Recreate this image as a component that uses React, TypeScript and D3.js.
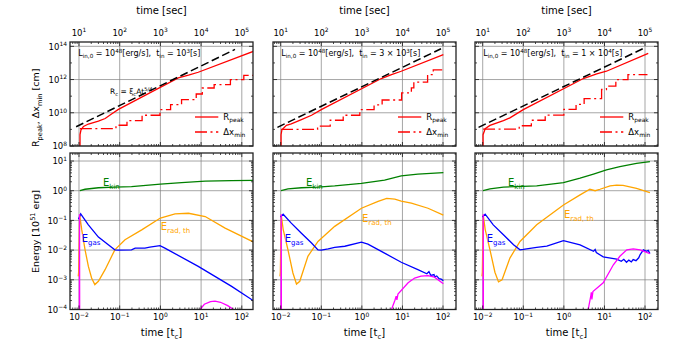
import React from 'react';
import * as d3 from 'd3';

type Pt = [number, number];
type Part = [string, 'n' | 'b' | 'p'];

// tick values
const tcTicks = [1e-2, 1e-1, 1, 1e1, 1e2];
const secTicks = [1e1, 1e2, 1e3, 1e4, 1e5];
const rMajor = [1e8, 1e10, 1e12, 1e14];
const eMajor = [1e-4, 1e-3, 1e-2, 1e-1, 1, 1e1];

// injection time text for each column
const tinCoef = ['', '3 × ', '1 × '];
const tinExp = ['3', '3', '4'];

// magenta spike at launch (same in every column), NaN = gap
const magSpike: Pt[] = [[0.0102, 3e-5], [0.0103, 0.16], [0.0104, 3e-5], [NaN, NaN]];

// ---- column 1 (t_in = 1e3 s) ----
const p1Rc: Pt[] = [[0.0085, 1.45e9], [68, 6.5e13]];
const p1Rpeak: Pt[] = [[0.0106, 1e8], [0.0106, 4.8e8], [0.0112, 9.5e8], [0.0129, 1.5e9], [0.017, 2.1e9], [0.03, 3.1e9], [0.044, 4.5e9], [0.063, 8.5e9], [0.093, 1.6e10], [2.75, 1.26e12], [4.9, 1.82e12], [8.5, 2.75e12], [190, 4.9e13]];
const p1Dx: Pt[] = [[0.0105, 1.12e9], [0.081, 1.78e9], [0.151, 3.39e9], [0.355, 7.08e9], [0.977, 1.55e10], [1.78, 3.09e10], [3.31, 6.17e10], [7.59, 1.35e11], [10.7, 3.09e11], [20.9, 4.9e11], [52.5, 9.77e11], [112, 1.78e12], [190, 1.78e12]];
const p1Kin: Pt[] = [[0.0105, 1.0], [0.0141, 1.12], [0.03, 1.26], [0.076, 1.32], [0.195, 1.38], [1.0, 1.66], [3.31, 1.86], [12.6, 2.09], [56, 2.19], [190, 2.24]];
const p1Gas: Pt[] = [[0.0097, 0.11], [0.011, 0.166], [0.017, 0.071], [0.03, 0.0275], [0.0525, 0.0151], [0.076, 0.0102], [0.093, 0.01], [0.195, 0.0102], [0.24, 0.0117], [0.417, 0.0117], [0.55, 0.0126], [0.977, 0.0141], [1.29, 0.0117], [8.51, 0.00282], [56.2, 6.0e-4], [190, 2.0e-4]];
const p1Rad: Pt[] = [[0.0096, 1.3e-3], [0.0098, 1.8e-3], [0.0104, 0.15], [0.0117, 0.048], [0.0141, 0.0102], [0.017, 2.82e-3], [0.0204, 1.15e-3], [0.0245, 6.9e-4], [0.03, 8.9e-4], [0.0437, 2.19e-3], [0.0759, 0.0102], [0.135, 0.0224], [0.347, 0.048], [1.0, 0.12], [2.29, 0.166], [4.9, 0.174], [12.6, 0.135], [38.9, 0.055], [190, 0.019]];
const p1Mag: Pt[] = [[8.0, 4e-5], [9.4, 1e-4], [12, 1.5e-4], [17, 1.85e-4], [22, 1.9e-4], [30, 1.75e-4], [45, 1.35e-4], [60, 1.05e-4], [75, 5e-5]];

// ---- column 2 (t_in = 3e3 s) ----
const p2Rc: Pt[] = [[0.0083, 1.33e9], [89, 7.1e13]];
const p2Rpeak: Pt[] = [[0.0102, 1e8], [0.0102, 4.8e8], [0.0107, 9.5e8], [0.0138, 1.74e9], [0.0182, 2.14e9], [0.0324, 3.89e9], [0.0575, 7.08e9], [0.1, 1.55e10], [3.02, 1.15e12], [5.37, 2.0e12], [9.33, 3.16e12], [102, 3.2e13]];
const p2Dx: Pt[] = [[0.0102, 1.0e9], [0.081, 1.58e9], [0.166, 3.55e9], [0.347, 7.08e9], [0.891, 1.55e10], [2.0, 2.95e10], [3.16, 5.89e10], [9.55, 1.58e11], [16.6, 3.16e11], [19.1, 7.08e11], [41.7, 2.0e12], [57.5, 3.8e12], [95.5, 3.8e12]];
const p2Kin: Pt[] = [[0.0102, 1.0], [0.0151, 1.15], [0.0324, 1.26], [0.083, 1.32], [0.214, 1.45], [0.977, 1.78], [3.63, 2.29], [9.33, 3.16], [24, 3.63], [102, 4.07]];
const p2Gas: Pt[] = [[0.0098, 0.13], [0.0115, 0.162], [0.0182, 0.081], [0.0324, 0.037], [0.0575, 0.0174], [0.083, 0.0102], [0.1, 0.01], [0.148, 0.011], [0.214, 0.0123], [0.38, 0.0135], [0.977, 0.0186], [1.41, 0.0158], [3.63, 7.9e-3], [9.33, 3.9e-3], [24, 2.19e-3], [40, 1.6e-3], [45, 1.9e-3], [50, 1.4e-3], [60, 1.5e-3], [62, 1.25e-3], [70, 1.35e-3], [80, 1.1e-3], [90, 1.05e-3], [102, 9.3e-4]];
const p2Rad: Pt[] = [[0.0096, 1.3e-3], [0.0098, 1.8e-3], [0.0103, 0.15], [0.0115, 0.05], [0.0151, 0.0102], [0.02, 1.7e-3], [0.0245, 7.2e-4], [0.0295, 8.9e-4], [0.0468, 6.2e-3], [0.083, 0.0195], [0.214, 0.063], [0.977, 0.257], [2.51, 0.437], [4.1, 0.55], [6.5, 0.52], [9.33, 0.45], [16.6, 0.38], [42.7, 0.257], [102, 0.15]];
const p2Mag: Pt[] = [[4.6, 4e-5], [5.37, 1e-4], [6.5, 2.0e-4], [7.0, 2.8e-4], [7.3, 2.1e-4], [7.76, 3.3e-4], [13.8, 7.9e-4], [20, 1.15e-3], [28.8, 1.32e-3], [42.7, 1.38e-3], [61.7, 1.23e-3], [102, 7.4e-4]];

// ---- column 3 (t_in = 1e4 s) ----
const p3Rc: Pt[] = [[0.0079, 1.32e9], [100, 8.3e13]];
const p3Rpeak: Pt[] = [[0.0102, 1e8], [0.0102, 4.8e8], [0.0115, 1.1e9], [0.0151, 1.74e9], [0.0324, 3.39e9], [0.0468, 4.9e9], [0.1, 1.55e10], [3.02, 1.15e12], [6.46, 2.19e12], [11.2, 3.16e12], [120, 3.8e13]];
const p3Dx: Pt[] = [[0.0102, 1.05e9], [0.0794, 1.66e9], [0.158, 3.55e9], [0.347, 7.24e9], [1.0, 1.58e10], [2.0, 3.16e10], [3.16, 7.08e10], [8.51, 2.51e11], [11.2, 3.98e11], [19.1, 1.0e12], [38, 2.0e12], [115, 2.0e12]];
const p3Kin: Pt[] = [[0.0102, 1.0], [0.0151, 1.15], [0.0324, 1.32], [0.214, 1.45], [0.977, 1.86], [2.51, 2.63], [5.37, 3.63], [11.2, 5.0], [24, 6.46], [61.7, 8.3], [132, 9.55]];
const p3Gas: Pt[] = [[0.0098, 0.13], [0.0115, 0.162], [0.0182, 0.0708], [0.0324, 0.0331], [0.0575, 0.0151], [0.083, 0.0102], [0.1, 0.0105], [0.214, 0.0123], [0.38, 0.0135], [0.977, 0.0209], [2.51, 0.0151], [5.37, 9.1e-3], [5.9, 0.0105], [6.3, 8.3e-3], [9.33, 5.9e-3], [20, 5.0e-3], [26, 4.2e-3], [30, 4.9e-3], [35, 3.9e-3], [40, 4.6e-3], [46, 4.0e-3], [51, 4.8e-3], [60, 4.4e-3], [70, 5.5e-3], [76, 7.1e-3], [91, 0.0102], [108, 9.1e-3], [120, 0.0098], [132, 7.6e-3]];
const p3Rad: Pt[] = [[0.0096, 1.3e-3], [0.0098, 1.8e-3], [0.0103, 0.15], [0.0115, 0.05], [0.0151, 0.0102], [0.02, 1.8e-3], [0.0245, 8.5e-4], [0.03, 1.0e-3], [0.0468, 5.4e-3], [0.083, 0.0195], [0.214, 0.071], [0.977, 0.331], [2.51, 0.724], [4.37, 1.12], [5.9, 1.0], [7.76, 1.12], [13.8, 1.45], [20, 1.55], [28.8, 1.52], [61.7, 1.2], [132, 0.87]];
const p3Mag: Pt[] = [[3.5, 4e-5], [3.98, 1e-4], [4.6, 2.8e-4], [4.75, 3.8e-4], [4.9, 2.2e-4], [5.2, 4.0e-4], [9.33, 7.9e-4], [16.6, 3.2e-3], [24, 6.2e-3], [35.5, 0.0102], [51.3, 0.011], [76, 0.0102], [132, 7.6e-3]];

const PW = 183;
const TY0 = 42, TY1 = 146;
const BY0 = 153, BY1 = 309.5;

const panels = [
  { left: 70, dom: [10 ** -2.221, 10 ** 2.275], rc: p1Rc, rpeak: p1Rpeak, dx: p1Dx, kin: p1Kin, gas: p1Gas, rad: p1Rad, mag: p1Mag, radLab: [160.7, 230] },
  { left: 273, dom: [10 ** -2.19, 10 ** 2.32], rc: p2Rc, rpeak: p2Rpeak, dx: p2Dx, kin: p2Kin, gas: p2Gas, rad: p2Rad, mag: p2Mag, radLab: [362, 221.7] },
  { left: 475, dom: [10 ** -2.19, 10 ** 2.32], rc: p3Rc, rpeak: p3Rpeak, dx: p3Dx, kin: p3Kin, gas: p3Gas, rad: p3Rad, mag: p3Mag, radLab: [564, 217.7] },
];

const FONT = 'DejaVu Sans';

function Rich({ x, y, parts, size, anchor = 'start', fill = '#000', transform }: { x: number; y: number; parts: Part[]; size: number; anchor?: string; fill?: string; transform?: string }) {
  let cur = 0;
  return (
    <text x={x} y={y} fontSize={size} textAnchor={anchor} fill={fill} transform={transform} fontFamily={FONT} style={{ whiteSpace: 'pre' }}>
      {parts.map(([s, k], i) => {
        const target = k === 'b' ? size * 0.28 : k === 'p' ? -size * 0.4 : 0;
        const dy = target - cur;
        cur = target;
        return (
          <tspan key={i} dy={dy} fontSize={k === 'n' ? size : size * 0.7}>{s}</tspan>
        );
      })}
    </text>
  );
}

const isDec = (v: number) => Math.abs(Math.log10(v) - Math.round(Math.log10(v))) < 1e-6;
const expStr = (v: number) => String(Math.round(Math.log10(v))).replace('-', '\u2212');

function Ticks({ xs, ys, x0, x1, y0, y1 }: { xs: [number, boolean][]; ys: [number, boolean][]; x0: number; x1: number; y0: number; y1: number }) {
  return (
    <g stroke="#000" strokeWidth={0.7}>
      {xs.map(([p, maj], i) => {
        const l = maj ? 4 : 2;
        return (
          <g key={'x' + i}>
            <line x1={p} x2={p} y1={y1} y2={y1 - l} />
            <line x1={p} x2={p} y1={y0} y2={y0 + l} />
          </g>
        );
      })}
      {ys.map(([p, maj], i) => {
        const l = maj ? 4 : 2;
        return (
          <g key={'y' + i}>
            <line x1={x0} x2={x0 + l} y1={p} y2={p} />
            <line x1={x1} x2={x1 - l} y1={p} y2={p} />
          </g>
        );
      })}
    </g>
  );
}

function Panel({ p, idx }: { p: (typeof panels)[number]; idx: number }) {
  const x0 = p.left, x1 = p.left + PW;
  const x = d3.scaleLog().domain(p.dom).range([x0, x1]);
  const xs = x.copy().domain(p.dom.map((v) => v * 1000));
  const yR = d3.scaleLog().domain([1e8, 10 ** 14.26]).range([TY1, TY0]);
  const yE = d3.scaleLog().domain([1e-4, 10 ** 1.27]).range([BY1, BY0]);

  const lineR = d3.line<Pt>().x((d) => x(d[0])).y((d) => yR(d[1]));
  const stepR = d3.line<Pt>().x((d) => x(d[0])).y((d) => yR(d[1])).curve(d3.curveStepAfter);
  const lineE = d3.line<Pt>()
    .defined((d) => !isNaN(d[1]))
    .x((d) => x(d[0]))
    .y((d) => yE(Math.max(d[1], 1e-6)));

  const xAll = x.ticks();
  const xTickList: [number, boolean][] = xAll.map((v) => [x(v), isDec(v)]);
  const secTickList: [number, boolean][] = xs.ticks().map((v) => [xs(v), isDec(v)]);
  const rTickList: [number, boolean][] = yR.ticks().filter(isDec).map((v) => [yR(v), Math.round(Math.log10(v)) % 2 === 0]);
  const eTickList: [number, boolean][] = yE.ticks().map((v) => [yE(v), isDec(v)]);
  const xDec = xAll.filter(isDec);
  const cx = (x0 + x1) / 2;
  const gridStyle = { stroke: '#808080', strokeWidth: 0.7 };

  return (
    <g>
      <defs>
        <clipPath id={`ct${idx}`}><rect x={x0} y={TY0} width={PW} height={TY1 - TY0} /></clipPath>
        <clipPath id={`cb${idx}`}><rect x={x0} y={BY0} width={PW} height={BY1 - BY0} /></clipPath>
      </defs>

      {/* grids */}
      <g {...gridStyle}>
        {xDec.map((v) => (
          <g key={'g' + v}>
            <line x1={x(v)} x2={x(v)} y1={TY0} y2={TY1} />
            <line x1={x(v)} x2={x(v)} y1={BY0} y2={BY1} />
          </g>
        ))}
        {rMajor.map((v) => <line key={'gr' + v} x1={x0} x2={x1} y1={yR(v)} y2={yR(v)} />)}
        {eMajor.map((v) => <line key={'ge' + v} x1={x0} x2={x1} y1={yE(v)} y2={yE(v)} />)}
      </g>

      {/* top: radius */}
      <g clipPath={`url(#ct${idx})`} fill="none">
        <path d={lineR(p.rpeak) || ''} stroke="#ff0000" strokeWidth={1.3} />
        <path d={stepR(p.dx) || ''} stroke="#ff0000" strokeWidth={1.3} strokeDasharray="12,3.5,2,3.5" />
        <path d={lineR(p.rc) || ''} stroke="#000" strokeWidth={1.5} strokeDasharray="8,3.6" />
      </g>

      {/* bottom: energies */}
      <g clipPath={`url(#cb${idx})`} fill="none" strokeWidth={1.3}>
        <path d={lineE(p.kin) || ''} stroke="#008000" />
        <path d={lineE(p.rad) || ''} stroke="#ffa500" />
        <path d={lineE(p.gas) || ''} stroke="#0000ff" />
        <path d={lineE([...magSpike, ...p.mag]) || ''} stroke="#ff00ff" />
      </g>

      <Ticks xs={secTickList} ys={rTickList} x0={x0} x1={x1} y0={TY0} y1={TY1} />
      <Ticks xs={xTickList} ys={eTickList} x0={x0} x1={x1} y0={BY0} y1={BY1} />

      <rect x={x0} y={TY0} width={PW} height={TY1 - TY0} fill="none" stroke="#222" strokeWidth={1.3} />
      <rect x={x0} y={BY0} width={PW} height={BY1 - BY0} fill="none" stroke="#222" strokeWidth={1.3} />

      {/* top axis */}
      <text x={cx} y={14} fontSize={10} textAnchor="middle" fontFamily={FONT}>time [sec]</text>
      {secTicks.map((v) => (
        <Rich key={'st' + v} x={xs(v)} y={35.5} size={8.5} anchor="middle" parts={[['10', 'n'], [expStr(v), 'p']]} />
      ))}

      {/* bottom axis */}
      {tcTicks.map((v) => (
        <Rich key={'bt' + v} x={x(v)} y={320} size={8.5} anchor="middle" parts={[['10', 'n'], [expStr(v), 'p']]} />
      ))}
      <Rich x={cx} y={336} size={10} anchor="middle" parts={[['time [t', 'n'], ['c', 'b'], [']', 'n']]} />

      {/* annotations */}
      <Rich x={x0 + 8.3} y={56} size={8} parts={[['L', 'n'], ['in,0', 'b'], [' = 10', 'n'], ['48', 'p'], ['[erg/s],  t', 'n'], ['in', 'b'], [' = ' + tinCoef[idx] + '10', 'n'], [tinExp[idx], 'p'], ['[s]', 'n']]} />

      <line x1={x0 + 125} x2={x0 + 148.3} y1={117} y2={117} stroke="#ff0000" strokeWidth={1.3} />
      <Rich x={x0 + 153.3} y={120} size={8.5} parts={[['R', 'n'], ['peak', 'b']]} />
      <line x1={x0 + 125} x2={x0 + 148.3} y1={132} y2={132} stroke="#ff0000" strokeWidth={1.3} strokeDasharray="12,3.5,2,3.5" />
      <Rich x={x0 + 153.3} y={135} size={8.5} parts={[['\u0394x', 'n'], ['min', 'b']]} />

      <Rich x={x0 + 33} y={186} size={10} fill="#008000" parts={[['E', 'n'], ['kin', 'b']]} />
      <Rich x={x0 + 11.7} y={241.7} size={10} fill="#0000ff" parts={[['E', 'n'], ['gas', 'b']]} />
      <Rich x={p.radLab[0]} y={p.radLab[1]} size={10} fill="#ffa500" parts={[['E', 'n'], ['rad, th', 'b']]} />

      {idx === 0 && (
        <g>
          <Rich x={110} y={94} size={7.5} parts={[['R', 'n'], ['c', 'b'], [' = \u03be', 'n'], ['c', 'b'], ['At', 'n'], ['5/4', 'p']]} />
          {rMajor.map((v) => (
            <Rich key={'rl' + v} x={67} y={yR(v) + 3.3} size={8.5} anchor="end" parts={[['10', 'n'], [expStr(v), 'p']]} />
          ))}
          {eMajor.map((v) => (
            <Rich key={'el' + v} x={67} y={yE(v) + 3.3} size={8.5} anchor="end" parts={[['10', 'n'], [expStr(v), 'p']]} />
          ))}
          <Rich x={39} y={147} size={9.5} transform="rotate(-90, 39, 147)" parts={[['R', 'n'], ['peak', 'b'], [', \u0394x', 'n'], ['min', 'b'], [' [cm]', 'n']]} />
          <Rich x={38.5} y={231.5} size={9.5} anchor="middle" transform="rotate(-90, 38.5, 231.5)" parts={[['Energy [10', 'n'], ['51', 'p'], [' erg]', 'n']]} />
        </g>
      )}
    </g>
  );
}

export default function App() {
  return (
    <svg width={700} height={350} style={{ position: 'absolute', left: 0, top: 0, background: '#fff' }}>
      <rect width={700} height={350} fill="#fff" />
      {panels.map((p, i) => <Panel key={i} p={p} idx={i} />)}
    </svg>
  );
}
